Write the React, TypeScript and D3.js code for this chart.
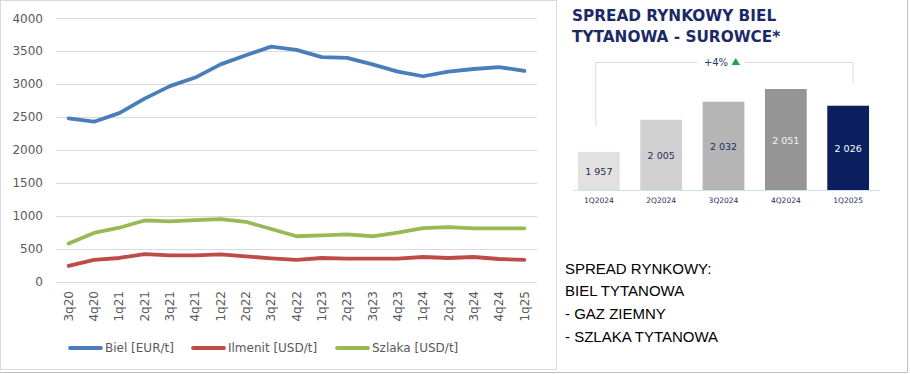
import * as d3 from "d3";
import { useEffect, useRef } from "react";

// left chart
const quarters = [
  "3q20", "4q20", "1q21", "2q21", "3q21", "4q21", "1q22", "2q22", "3q22", "4q22",
  "1q23", "2q23", "3q23", "4q23", "1q24", "2q24", "3q24", "4q24", "1q25",
];
const biel = [2480, 2430, 2560, 2780, 2970, 3100, 3300, 3440, 3570, 3520, 3410, 3400, 3300, 3190, 3120, 3190, 3230, 3260, 3200];
const ilmenit = [240, 330, 360, 420, 400, 400, 415, 385, 355, 330, 360, 350, 350, 350, 375, 360, 375, 345, 330];
const szlaka = [580, 740, 820, 930, 915, 935, 950, 910, 800, 690, 705, 720, 690, 745, 815, 830, 810, 810, 810];
const yTicks = [0, 500, 1000, 1500, 2000, 2500, 3000, 3500, 4000];

// right chart
const spreadLabels = ["1Q2024", "2Q2024", "3Q2024", "4Q2024", "1Q2025"];
const spreadValues = [1957, 2005, 2032, 2051, 2026];
const spreadColors = ["#e1e1e1", "#d0d0d0", "#b5b5b5", "#959595", "#0b1f5e"];
const spreadText = ["#1f2d5c", "#1f2d5c", "#1f2d5c", "#f2f2f2", "#ffffff"];
const noteLines = ["SPREAD RYNKOWY:", "BIEL TYTANOWA", "- GAZ ZIEMNY", "- SZLAKA TYTANOWA"];

const series = [
  { name: "Biel [EUR/t]", values: biel, color: "#4a7ebb" },
  { name: "Ilmenit [USD/t]", values: ilmenit, color: "#be4b48" },
  { name: "Szlaka [USD/t]", values: szlaka, color: "#98b954" },
];

export default function App() {
  const svgRef = useRef<SVGSVGElement | null>(null);

  useEffect(() => {
    const svg = d3.select(svgRef.current);
    svg.selectAll("*").remove();
    const font = "DejaVu Sans, sans-serif";

    svg.append("rect").attr("width", 910).attr("height", 374).attr("fill", "#fff");

    // left chart frame
    svg.append("rect")
      .attr("x", 0.5).attr("y", 0.5).attr("width", 556).attr("height", 369)
      .attr("fill", "none").attr("stroke", "#d9d9d9");

    const x = d3.scaleBand().domain(quarters).range([56, 537]);
    const y = d3.scaleLinear().domain([0, 4000]).range([281.7, 18.3]);

    const grid = svg.append("g");
    grid.selectAll("line").data(yTicks).join("line")
      .attr("x1", 56).attr("x2", 537)
      .attr("y1", (d) => Math.round(y(d)) + 0.5).attr("y2", (d) => Math.round(y(d)) + 0.5)
      .attr("stroke", "#d9d9d9");

    svg.append("g").selectAll("text").data(yTicks).join("text")
      .attr("x", 43).attr("y", (d) => y(d)).attr("dy", "0.35em")
      .attr("text-anchor", "end").attr("font-family", font).attr("font-size", 12)
      .attr("fill", "#595959").text((d) => d);

    svg.append("g").selectAll("text").data(quarters).join("text")
      .attr("transform", (d) => `translate(${x(d)! + x.bandwidth() / 2},291) rotate(-90)`)
      .attr("dy", "0.35em").attr("text-anchor", "end")
      .attr("font-family", font).attr("font-size", 12).attr("fill", "#595959")
      .text((d) => d);

    const line = d3.line<number>()
      .x((_, i) => x(quarters[i])! + x.bandwidth() / 2)
      .y((d) => y(d));

    series.forEach((s) => {
      svg.append("path").datum(s.values)
        .attr("d", line).attr("fill", "none").attr("stroke", s.color)
        .attr("stroke-width", 3.8).attr("stroke-linejoin", "round").attr("stroke-linecap", "round");
    });

    // legend
    const legendX = [70, 193, 337];
    series.forEach((s, i) => {
      const g = svg.append("g").attr("transform", `translate(${legendX[i]},348)`);
      g.append("line").attr("x1", 0).attr("x2", 31).attr("stroke", s.color)
        .attr("stroke-width", 3.8).attr("stroke-linecap", "round");
      g.append("text").attr("x", 35).attr("dy", "0.35em")
        .attr("font-family", font).attr("font-size", 12).attr("fill", "#595959").text(s.name);
    });

    // right panel
    const navy = "#1b2a66";
    const title = svg.append("text").attr("font-family", font).attr("font-weight", "bold")
      .attr("font-size", 15.3).attr("fill", navy);
    title.append("tspan").attr("x", 572).attr("y", 20.7).text("SPREAD RYNKOWY BIEL");
    title.append("tspan").attr("x", 572).attr("y", 42.3).text("TYTANOWA - SUROWCE*");

    const bx = d3.scaleBand().domain(spreadLabels).range([568, 879]).paddingInner(0.33).paddingOuter(0.16);
    const by = d3.scaleLinear().domain([1900, 2051]).range([190, 89]);

    // bracket
    const left = bx(spreadLabels[0])! + bx.bandwidth() / 2 - 3;
    const right = bx(spreadLabels[4])! + bx.bandwidth() / 2 + 5;
    svg.append("path")
      .attr("d", `M${left},126V62.5H697M745,62.5H${right}V83`)
      .attr("fill", "none").attr("stroke", "#d9d9d9").attr("stroke-width", 1);
    svg.append("text").attr("x", 716).attr("y", 62.5).attr("dy", "0.35em")
      .attr("text-anchor", "middle").attr("font-family", font).attr("font-size", 10)
      .attr("fill", "#2d3b6e").text("+4%");
    svg.append("path").attr("d", "M731.5,65L735.8,58L740,65Z").attr("fill", "#1aa64a");

    svg.append("g").selectAll("rect").data(spreadValues).join("rect")
      .attr("x", (_, i) => bx(spreadLabels[i])!)
      .attr("y", (d) => by(d))
      .attr("width", bx.bandwidth())
      .attr("height", (d) => by(1900) - by(d))
      .attr("fill", (_, i) => spreadColors[i]);

    svg.append("line").attr("x1", 573).attr("x2", 880).attr("y1", 190.5).attr("y2", 190.5)
      .attr("stroke", "#cfe2f3").attr("stroke-width", 1);

    svg.append("g").selectAll("text").data(spreadValues).join("text")
      .attr("x", (_, i) => bx(spreadLabels[i])! + bx.bandwidth() / 2)
      .attr("y", (d) => (by(d) + 190) / 2 + 1)
      .attr("dy", "0.35em").attr("text-anchor", "middle")
      .attr("font-family", font).attr("font-size", 9.5)
      .attr("fill", (_, i) => spreadText[i])
      .text((d) => d3.format(",")(d).replace(",", " "));

    svg.append("g").selectAll("text").data(spreadLabels).join("text")
      .attr("x", (d) => bx(d)! + bx.bandwidth() / 2).attr("y", 200)
      .attr("dy", "0.35em").attr("text-anchor", "middle")
      .attr("font-family", font).attr("font-size", 7.5).attr("fill", "#1f2d5c")
      .text((d) => d);

    svg.append("g").selectAll("text").data(noteLines).join("text")
      .attr("x", 565).attr("y", (_, i) => 273.5 + i * 22.8)
      .attr("font-family", "Liberation Sans, Arial, sans-serif").attr("font-size", 15)
      .attr("fill", "#000").text((d) => d);

    // outer right/bottom edge
    svg.append("path").attr("d", "M907.5,0V372.5H0").attr("fill", "none").attr("stroke", "#bfbfbf");
  }, []);

  return (
    <svg
      ref={svgRef}
      width={910}
      height={374}
      style={{ position: "absolute", left: 0, top: 0 }}
    />
  );
}
